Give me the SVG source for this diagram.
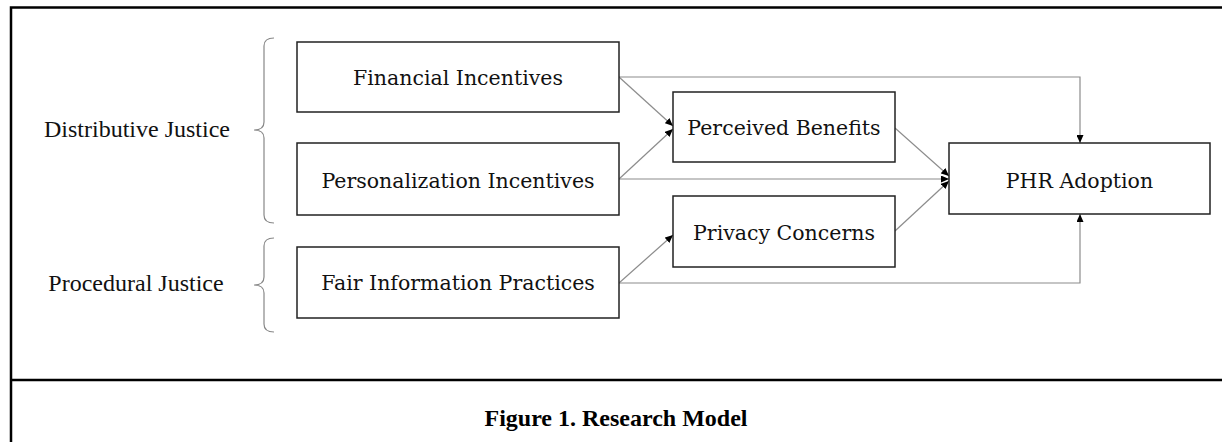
<svg xmlns="http://www.w3.org/2000/svg" width="1222" height="442" viewBox="0 0 1222 442">
<style>
.frame{fill:none;stroke:#000;stroke-width:2.5}
.box{fill:#fff;stroke:#222;stroke-width:1.5}
.ntext{font-family:"DejaVu Serif",serif;font-size:20.5px;fill:#111;text-anchor:middle}
.ltext{font-family:"Liberation Serif",serif;font-size:24px;fill:#111;text-anchor:middle}
.cap{font-family:"Liberation Serif",serif;font-size:24px;font-weight:bold;fill:#000;text-anchor:middle}
.conn{fill:none;stroke:#8c8c8c;stroke-width:1.2}
.brace{fill:none;stroke:#888;stroke-width:1.2}
</style>
<defs>
<marker id="arr" markerUnits="userSpaceOnUse" markerWidth="8" markerHeight="7" refX="8" refY="3.5" orient="auto">
<path d="M0,0 L8,3.5 L0,7 z" fill="#000"/>
</marker>
</defs>
<rect width="1222" height="442" fill="#fff"/>
<g id="frame">
<path class="frame" d="M11,442 V7.5 H1222"/>
<path class="frame" d="M11,380 H1222"/>
</g>
<g id="braces">
<path class="brace" d="M274,38 Q264,38 264,46 V122 Q264,130 254,130 Q264,130 264,138 V215 Q264,223 274,223"/>
<path class="brace" d="M274,238 Q264,238 264,246 V277 Q264,285 254,285 Q264,285 264,293 V324 Q264,332 274,332"/>
</g>
<g id="label-distributive"><text class="ltext" x="137" y="137">Distributive Justice</text></g>
<g id="label-procedural"><text class="ltext" x="136" y="291">Procedural Justice</text></g>
<g id="connectors">
<path class="conn" d="M619,77 H1080 V143" marker-end="url(#arr)"/>
<path class="conn" d="M619,77 L673,126" marker-end="url(#arr)"/>
<path class="conn" d="M619,179 L673,129" marker-end="url(#arr)"/>
<path class="conn" d="M619,179 H949" marker-end="url(#arr)"/>
<path class="conn" d="M895,128 L949,176" marker-end="url(#arr)"/>
<path class="conn" d="M895,231 L949,181" marker-end="url(#arr)"/>
<path class="conn" d="M619,283 L673,235" marker-end="url(#arr)"/>
<path class="conn" d="M619,283 H1080 V214" marker-end="url(#arr)"/>
</g>
<g id="financial"><rect class="box" x="297" y="42" width="322" height="70"/><text class="ntext" x="458" y="85">Financial Incentives</text></g>
<g id="personalization"><rect class="box" x="297" y="143" width="322" height="72"/><text class="ntext" x="458" y="188">Personalization Incentives</text></g>
<g id="fairinfo"><rect class="box" x="297" y="247" width="322" height="71"/><text class="ntext" x="458" y="290">Fair Information Practices</text></g>
<g id="benefits"><rect class="box" x="673" y="92" width="222" height="70"/><text class="ntext" x="784" y="135">Perceived Benefits</text></g>
<g id="privacy"><rect class="box" x="673" y="196" width="222" height="71"/><text class="ntext" x="784" y="240">Privacy Concerns</text></g>
<g id="phr"><rect class="box" x="949" y="143" width="261" height="71"/><text class="ntext" x="1079.5" y="188">PHR Adoption</text></g>
<g id="caption"><text class="cap" x="616" y="426">Figure 1. Research Model</text></g>
</svg>
